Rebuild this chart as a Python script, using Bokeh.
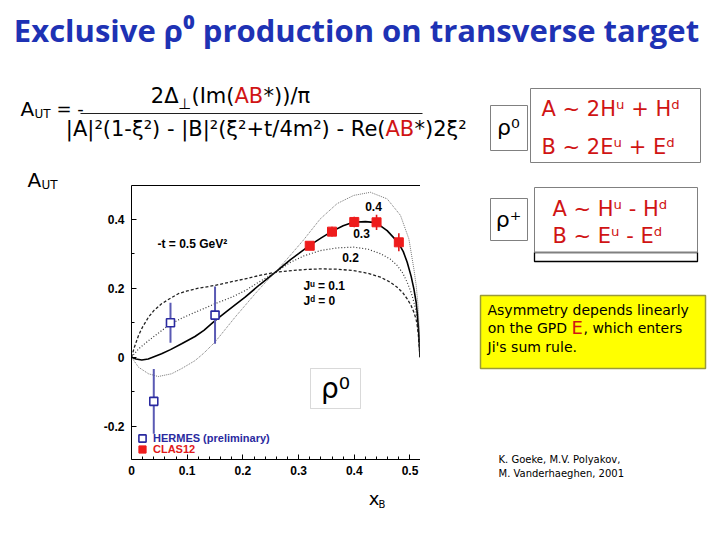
from bokeh.plotting import figure
from bokeh.layouts import column, row
from bokeh.models import (Range1d, LinearAxis, FixedTicker, Label, BoxAnnotation,
                          Legend, LegendItem)
from bokeh.embed import file_html
from bokeh.resources import INLINE

# ---------------- data ----------------
# model curves, J^d = 0, J^u = 0.1 / 0.2 / 0.3 / 0.4
x_ju01 = [0, 0.005, 0.0126, 0.02, 0.0305, 0.04, 0.054, 0.07, 0.084, 0.10, 0.12, 0.15,
          0.18, 0.204, 0.23, 0.258, 0.28, 0.31, 0.339, 0.37, 0.399, 0.425, 0.447,
          0.465, 0.477, 0.487, 0.495, 0.502, 0.507, 0.511, 0.513, 0.515, 0.5165, 0.518]
y_ju01 = [0, 0.028, 0.063, 0.088, 0.116, 0.135, 0.155, 0.171, 0.184, 0.192, 0.200, 0.208,
          0.219, 0.227, 0.237, 0.246, 0.250, 0.254, 0.256, 0.255, 0.251, 0.243, 0.232,
          0.217, 0.203, 0.187, 0.169, 0.150, 0.130, 0.110, 0.092, 0.065, 0.035, 0.0]

x_ju02 = [0, 0.0126, 0.0305, 0.05, 0.069, 0.09, 0.114, 0.15, 0.18, 0.204, 0.23, 0.258,
          0.2855, 0.31, 0.339, 0.37, 0.399, 0.425, 0.447, 0.465, 0.477, 0.487, 0.495,
          0.502, 0.507, 0.511, 0.513, 0.515, 0.5165, 0.518]
y_ju02 = [0, 0.024, 0.048, 0.072, 0.095, 0.113, 0.130, 0.155, 0.174, 0.193, 0.219, 0.246,
          0.275, 0.294, 0.309, 0.317, 0.319, 0.313, 0.300, 0.284, 0.266, 0.244, 0.217,
          0.188, 0.160, 0.133, 0.111, 0.080, 0.045, 0.0]

x_ju03 = [0, 0.008, 0.0185, 0.03, 0.054, 0.07, 0.09, 0.114, 0.13, 0.15, 0.175, 0.204,
          0.23, 0.258, 0.2855, 0.30, 0.32, 0.34, 0.359, 0.38, 0.398, 0.42, 0.439, 0.459,
          0.479, 0.488, 0.495, 0.502, 0.507, 0.511, 0.513, 0.515, 0.5165, 0.518]
y_ju03 = [0, -0.005, -0.008, -0.005, 0.010, 0.022, 0.039, 0.060, 0.078, 0.106, 0.138, 0.174,
          0.210, 0.246, 0.283, 0.300, 0.324, 0.345, 0.364, 0.381, 0.391, 0.393, 0.390, 0.367,
          0.332, 0.306, 0.275, 0.235, 0.198, 0.160, 0.130, 0.090, 0.050, 0.0]

x_ju04 = [0, 0.0126, 0.0305, 0.048, 0.072, 0.09, 0.114, 0.13, 0.15, 0.168, 0.186, 0.204,
          0.222, 0.24, 0.258, 0.2855, 0.309, 0.339, 0.369, 0.399, 0.429, 0.459, 0.483,
          0.498, 0.507, 0.511, 0.514, 0.516, 0.517, 0.518]
y_ju04 = [0, -0.029, -0.048, -0.056, -0.048, -0.033, -0.010, 0.012, 0.044, 0.080, 0.116, 0.150,
          0.184, 0.216, 0.246, 0.296, 0.340, 0.401, 0.445, 0.469, 0.478, 0.459, 0.411,
          0.343, 0.256, 0.210, 0.160, 0.100, 0.050, 0.0]

hermes_x = [0.04, 0.07, 0.15]
hermes_y = [-0.128, 0.100, 0.122]
hermes_err = [0.094, 0.058, 0.083]

clas_x = [0.32, 0.36, 0.40, 0.44, 0.48]
clas_y = [0.323, 0.364, 0.392, 0.391, 0.333]
clas_err = [0.012, 0.014, 0.015, 0.022, 0.026]

x_ticks = [0, 0.1, 0.2, 0.3, 0.4, 0.5]
x_tick_labels = ["0", "0.1", "0.2", "0.3", "0.4", "0.5"]
y_ticks = [-0.2, 0, 0.2, 0.4]
y_tick_labels = ["-0.2", "0", "0.2", "0.4"]

BLUE = "#1e32b4"
RED = "#d01414"
SF = "DejaVu Sans"       # slide font
PF = "Liberation Sans"   # plot font


# ---------------- helpers ----------------
def deco(x0, x1, y0, y1):
    """A bare figure whose data coordinates are the slide's pixel coordinates."""
    f = figure(width=x1 - x0, height=y1 - y0, x_range=Range1d(x0, x1),
               y_range=Range1d(y1, y0), min_border=0, x_axis_type=None, y_axis_type=None,
               output_backend="svg", toolbar_location=None)
    f.grid.visible = False
    f.outline_line_color = None
    f.background_fill_color = "white"
    f.border_fill_color = "white"
    return f


def T(f, text, X, Y, size, color="#000000", font=SF, align="left",
      baseline="middle", style="normal"):
    f.add_layout(Label(x=X, y=Y, text=text, text_font=font, text_font_size=f"{size}px",
                       text_color=color, text_align=align, text_baseline=baseline,
                       text_font_style=style))


def R(f, X0, Y0, X1, Y1, line="#808080", fill=None, lw=1.0):
    f.quad(left=[X0], right=[X1], top=[Y0], bottom=[Y1],
           fill_color=fill if fill else "white", fill_alpha=1.0 if fill else 0.0,
           line_color=line, line_width=lw)


# ---------------- top strip: title and formula ----------------
top = deco(0, 712, 0, 165)
T(top, "Exclusive \u03c1\u2070 production on transverse target", 356, 29, 31, BLUE,
  font="Open Sans", align="center", style="bold")
T(top, "A", 20, 108, 20)
T(top, "UT", 34, 113, 12)
T(top, "= -", 56, 108, 18)
T(top, "2\u0394", 178, 95, 21, align="right")
T(top, "\u22a5", 184, 103, 15, align="center")
T(top, "(Im(", 234, 95, 21, align="right")
T(top, "AB", 234, 95, 21, RED)
T(top, "*))/\u03c0", 263, 95, 21)
top.segment(x0=[80], y0=[113], x1=[422], y1=[113], line_color="#202020", line_width=1.2)
T(top, "|A|\u00b2(1-\u03be\u00b2) - |B|\u00b2(\u03be\u00b2+t/4m\u00b2) - Re(", 385, 128, 21,
  align="right")
T(top, "AB", 385, 128, 21, RED)
T(top, "*)2\u03be\u00b2", 414, 128, 21)
R(top, 490, 105, 527, 150)
T(top, "\u03c1\u2070", 508, 127, 22, align="center")
R(top, 530, 88, 700, 162)
T(top, "A ~  2H\u1d58 + H\u1d48", 541, 108, 21, RED)
T(top, "B ~  2E\u1d58 + E\u1d48", 541, 146, 21, RED)

# ---------------- left strip: y label ----------------
left = deco(0, 96, 165, 532)
T(left, "A", 27, 179, 20)
T(left, "UT", 41, 184, 12)

# ---------------- the data plot ----------------
p = figure(x_range=Range1d(0, 0.5189), y_range=Range1d(-0.2965, 0.4977),
           frame_width=289, frame_height=274,
           min_border_left=35, min_border_right=0, min_border_top=20, min_border_bottom=25,
           output_backend="svg", toolbar_location=None)
p.grid.visible = False
p.outline_line_color = None
p.background_fill_color = "white"
p.border_fill_color = "white"

p.xaxis.ticker = FixedTicker(ticks=x_ticks,
                             minor_ticks=[round(i * 0.02, 2) for i in range(26) if i % 5])
p.xaxis.major_label_overrides = dict(zip(x_ticks, x_tick_labels))
p.yaxis.ticker = FixedTicker(ticks=y_ticks, minor_ticks=[-0.1, 0.1, 0.3])
p.yaxis.major_label_overrides = dict(zip(y_ticks, y_tick_labels))
for ax in (p.xaxis[0], p.yaxis[0]):
    ax.major_tick_in = 5
    ax.major_tick_out = 0
    ax.minor_tick_in = 3
    ax.minor_tick_out = 0
    ax.axis_line_color = "black"
    ax.major_tick_line_color = "black"
    ax.minor_tick_line_color = "black"
    ax.major_label_text_font = PF
    ax.major_label_text_font_style = "bold"
    ax.major_label_text_font_size = "12px"
    ax.major_label_text_color = "black"
p.xaxis.major_label_standoff = 6
p.yaxis.major_label_standoff = 7

top_axis = LinearAxis(axis_line_color="black", major_tick_line_color=None,
                      minor_tick_line_color=None, major_label_text_color=None,
                      major_label_text_font_size="4px", major_label_standoff=0)
p.add_layout(top_axis, "above")

# curves
p.line(x_ju01, y_ju01, line_color="#222222", line_width=1.3, line_dash="3 2")
p.line(x_ju02, y_ju02, line_color="#333333", line_width=1.2, line_dash="1 2")
p.line(x_ju03, y_ju03, line_color="black", line_width=1.6)
p.line(x_ju04, y_ju04, line_color="#666666", line_width=0.9, line_dash="1 1")

# HERMES
h_lo = [y - e for y, e in zip(hermes_y, hermes_err)]
h_hi = [y + e for y, e in zip(hermes_y, hermes_err)]
p.segment(hermes_x, h_lo, hermes_x, h_hi, line_color="#5a5ab4", line_width=2)
hermes_r = p.scatter(hermes_x, hermes_y, marker="square", size=8, fill_color="white",
                     line_color="#2a2aa0", line_width=1.6)

# CLAS12
c_lo = [y - e for y, e in zip(clas_y, clas_err)]
c_hi = [y + e for y, e in zip(clas_y, clas_err)]
p.segment(clas_x, c_lo, clas_x, c_hi, line_color="#e01818", line_width=1.6)
clas_r = p.scatter(clas_x, clas_y, marker="square", size=9, fill_color="#ee1c1c",
                   line_color="#ee1c1c")

# legends (two, to colour the labels separately)
for r, lab, col, loc in [(hermes_r, "HERMES (preliminary)", "#2a2aa0", (2, 12)),
                         (clas_r, "CLAS12", "#e01818", (2, 1))]:
    lg = Legend(items=[LegendItem(label=lab, renderers=[r])], location=loc,
                glyph_width=18, glyph_height=18, label_height=18, label_standoff=2,
                padding=0, margin=0, border_line_color=None, background_fill_alpha=0,
                label_text_font=PF, label_text_font_style="bold",
                label_text_font_size="11px", label_text_color=col)
    p.add_layout(lg)

# texts and box inside the plot (canvas units of this figure: origin at slide (96,165))
PX, PY = 96, 165


def PT(text, X, Y, size, font=PF, align="left", style="bold"):
    p.add_layout(Label(x=X - PX, y=Y - PY, x_units="canvas", y_units="canvas", text=text,
                       text_font=font, text_font_size=f"{size}px", text_color="black",
                       text_align=align, text_baseline="middle", text_font_style=style))


p.add_layout(BoxAnnotation(left=310 - PX, right=360 - PX, top=368 - PY, bottom=408 - PY,
                           left_units="canvas", right_units="canvas",
                           top_units="canvas", bottom_units="canvas",
                           fill_alpha=0.0, line_color="#808080", line_width=1))
PT("\u03c1\u2070", 335, 388, 28, font=SF, align="center", style="normal")
PT("0.4", 373, 206, 12, align="center")
PT("0.3", 361, 233, 12, align="center")
PT("0.2", 350, 257, 12, align="center")
PT("J\u1d58 = 0.1", 303, 285, 12)
PT("J\u1d48 = 0", 303, 300, 12)
PT("-t = 0.5 GeV\u00b2", 157, 243, 12)

# x label strip under the plot
xb = deco(96, 420, 484, 532)
T(xb, "x", 362, 498, 18)
T(xb, "B", 373, 504, 10)

# ---------------- right strip ----------------
right = deco(420, 712, 165, 532)
R(right, 490, 198, 527, 240)
T(right, "\u03c1\u207a", 508, 219, 22, align="center")
R(right, 534, 252, 697, 261, line="black", lw=1.3)
R(right, 534, 187, 697, 252)
T(right, "A ~  H\u1d58 - H\u1d48", 552, 208, 21, RED)
T(right, "B ~  E\u1d58 - E\u1d48", 552, 235, 21, RED)
R(right, 480, 295, 705, 368, line="#9a9a3a", fill="#ffff00", lw=1.5)
T(right, "Asymmetry depends linearly", 487, 309, 14)
T(right, "on the GPD ", 571, 327, 14, align="right")
T(right, "E", 571, 327, 18, RED)
T(right, ", which enters", 583, 327, 14)
T(right, "Ji's sum rule.", 487, 346, 14)
T(right, "K. Goeke, M.V. Polyakov,", 498, 459, 10)
T(right, "M. Vanderhaeghen, 2001", 498, 473, 10)

layout = column(top, row(left, column(p, xb, spacing=0), right, spacing=0), spacing=0)
open("out.html", "w").write(file_html(layout, INLINE))
